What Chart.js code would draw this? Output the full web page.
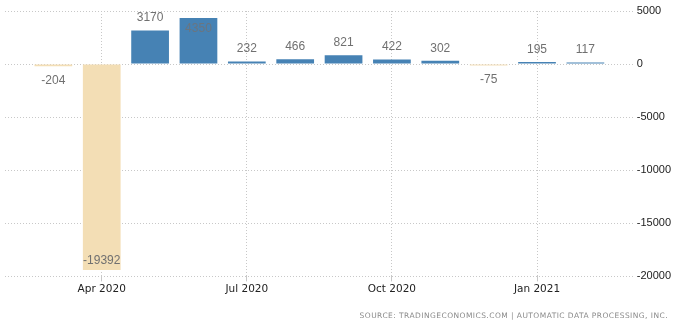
<!DOCTYPE html>
<html>
<head>
<meta charset="utf-8">
<script src="https://cdn.jsdelivr.net/npm/chart.js@4/dist/chart.umd.min.js"></script>
<style>
  html, body { margin: 0; padding: 0; background: #fff; }
  #wrap { position: relative; width: 687px; height: 328px; }
  #c { position: absolute; left: 0; top: 0; }
  #src { position: absolute; right: 19px; top: 311px; font-family: "DejaVu Sans", sans-serif; font-size: 7.5px; color: #8a8a8a; white-space: nowrap; letter-spacing: 0.45px; }
</style>
</head>
<body>
<div id="wrap">
  <canvas id="c" width="687" height="328"></canvas>
  <div id="src">SOURCE: TRADINGECONOMICS.COM | AUTOMATIC DATA PROCESSING, INC.</div>
</div>
<script>
const categories = ['Mar 2020','Apr 2020','May 2020','Jun 2020','Jul 2020','Aug 2020','Sep 2020','Oct 2020','Nov 2020','Dec 2020','Jan 2021','Feb 2021'];
const values = [-204, -19392, 3170, 4350, 232, 466, 821, 422, 302, -75, 195, 117];
const tickLabels = ['Apr 2020','Jul 2020','Oct 2020','Jan 2021'];
const yMin = -20000, yMax = 5000, yStep = 5000;

const posColor = '#4682B4';
const negColor = '#F3DEB5';

const labels = [''].concat(categories, ['']);
const data = [null].concat(values, [null]);

const valueLabels = {
  id: 'valueLabels',
  afterDatasetsDraw(chart) {
    const ctx = chart.ctx;
    const area = chart.chartArea;
    const meta = chart.getDatasetMeta(0);
    ctx.save();
    ctx.font = '12px "Liberation Sans", Arial, sans-serif';
    ctx.textAlign = 'center';
    ctx.textBaseline = 'middle';
    meta.data.forEach((bar, i) => {
      const v = data[i];
      if (v === null || v === undefined) return;
      let y, inside;
      if (v >= 0) {
        inside = bar.y - 18 < area.top;
        y = inside ? bar.y + 11 : bar.y - 12.5;
      } else {
        inside = bar.y + 18 > area.bottom;
        y = inside ? bar.y - 9 : bar.y + 14.5;
      }
      ctx.fillStyle = (inside && v >= 0) ? '#6a7580' : '#707070';
      ctx.fillText(String(v), bar.x, y);
    });
    ctx.restore();
  }
};

const gridOn = (c) => (c.index !== undefined && tickLabels.includes(labels[c.index])) ? '#c8c8c8' : 'rgba(0,0,0,0)';

new Chart(document.getElementById('c'), {
  type: 'bar',
  data: {
    labels: labels,
    datasets: [{
      data: data,
      backgroundColor: data.map(v => (v !== null && v < 0) ? negColor : posColor),
      borderWidth: 0,
      barPercentage: 0.78,
      categoryPercentage: 1.0,
      minBarLength: 1.5
    }]
  },
  options: {
    responsive: false,
    animation: false,
    devicePixelRatio: 1,
    layout: { padding: { left: 5, right: 13, top: 11, bottom: 30 } },
    plugins: { legend: { display: false }, tooltip: { enabled: false } },
    scales: {
      x: {
        offset: false,
        border: { display: false, dash: [1, 2] },
        grid: {
          offset: false,
          color: gridOn,
          tickColor: gridOn,
          lineWidth: 1,
          tickLength: 5,
          drawTicks: true
        },
        ticks: {
          autoSkip: false,
          maxRotation: 0,
          minRotation: 0,
          padding: 2,
          color: '#222',
          font: { family: '"DejaVu Sans", sans-serif', size: 10.5 },
          callback: function(value, index) {
            const l = labels[index];
            return tickLabels.includes(l) ? l : '';
          }
        }
      },
      y: {
        position: 'right',
        min: yMin,
        max: yMax,
        border: { display: false, dash: [1, 2] },
        grid: {
          color: '#c8c8c8',
          lineWidth: 1,
          drawTicks: false
        },
        ticks: {
          stepSize: yStep,
          padding: 3,
          color: '#222',
          font: { family: '"Liberation Sans", Arial, sans-serif', size: 11 },
          callback: (v) => String(v)
        }
      }
    }
  },
  plugins: [valueLabels]
});
</script>
</body>
</html>
